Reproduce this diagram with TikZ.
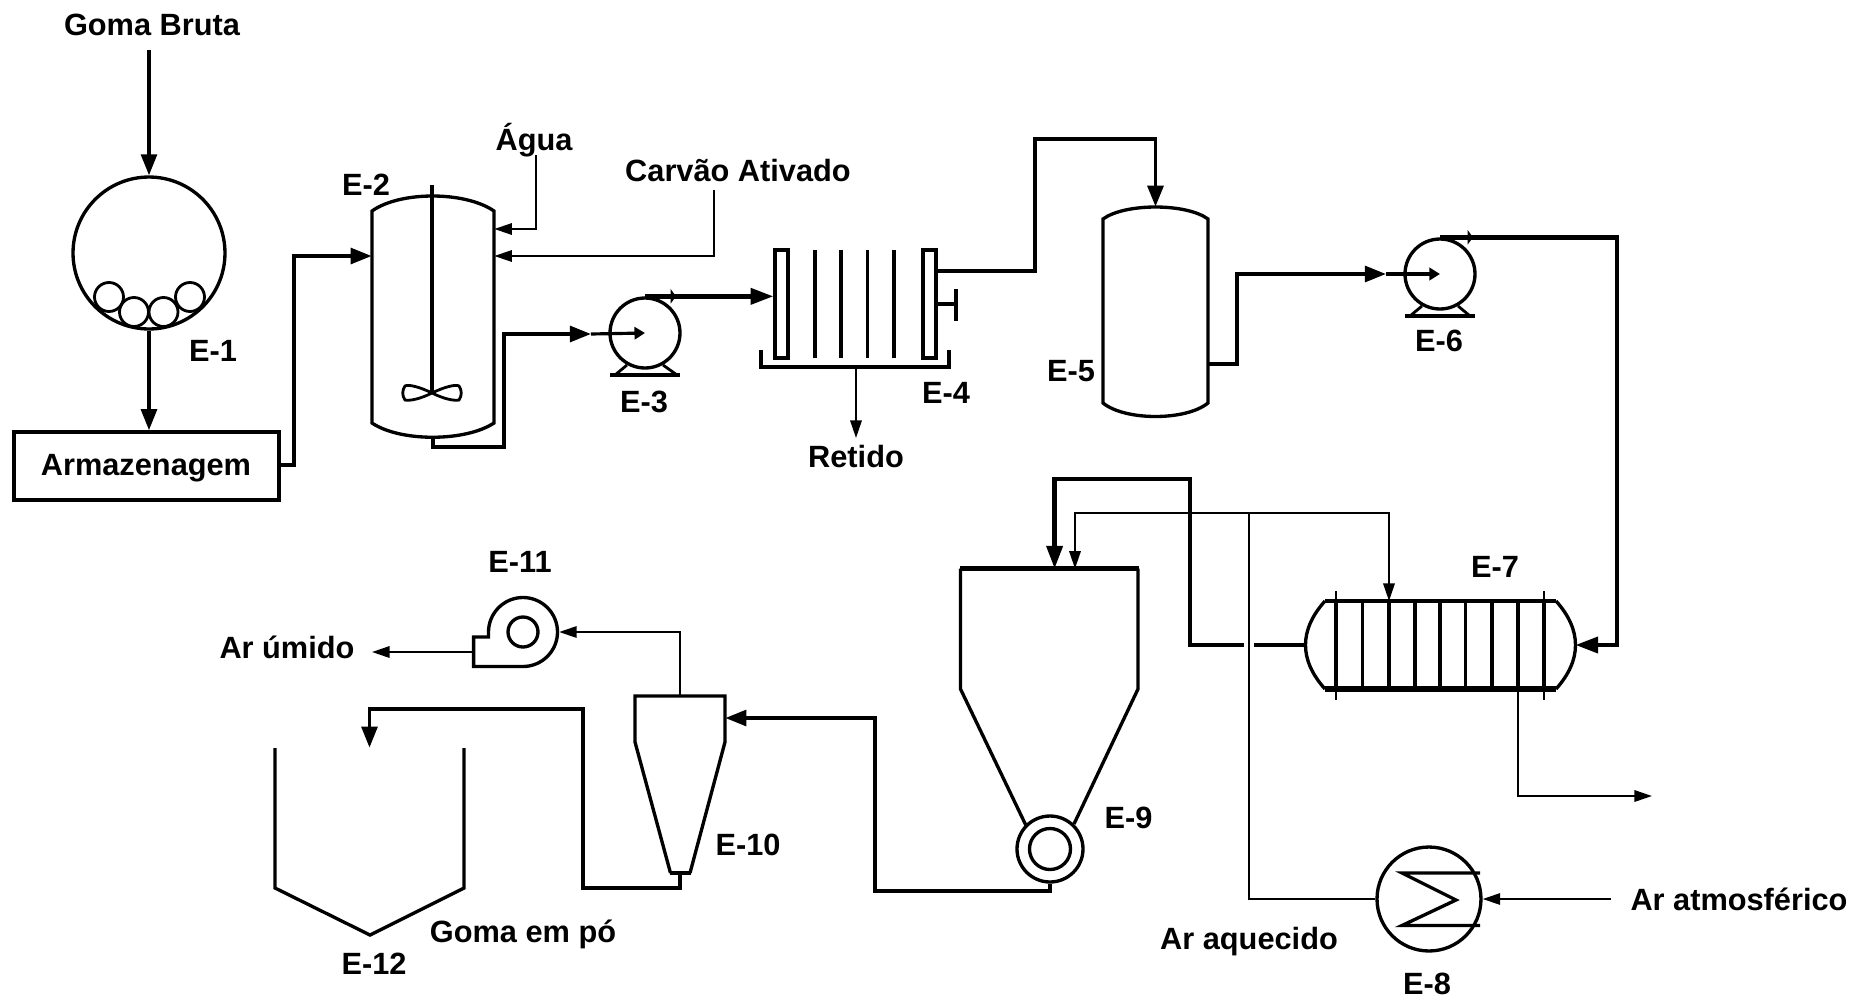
\documentclass[tikz,border=0pt]{standalone}
\usepackage{fontspec}
\setmainfont{Liberation Sans}
\usetikzlibrary{arrows.meta,calc}

\begin{document}
\begin{tikzpicture}[
  x=0.02cm,y=-0.02cm,
  lbl/.style={font=\bfseries\fontsize{17.5}{20}\selectfont,inner sep=0pt},
  eqp/.style={draw,line width=1.9pt},
  drum/.style={circle,draw,line width=1.9pt,inner sep=0pt,minimum size=#1},
  shell/.style={rectangle,inner sep=0pt,minimum width=#1},
  ball/.style={circle,draw,line width=1.6pt,inner sep=0pt,minimum size=0.58cm},
  flow/.style={-{Triangle[length=12pt,width=9pt]},line width=2pt},
  heavy/.style={-{Triangle[length=13pt,width=9pt]},line width=2.5pt},
  pipe/.style={line width=2.2pt},
  fine/.style={-{Triangle[length=10pt,width=6.5pt]},line width=1.1pt},
  finepipe/.style={line width=1.1pt},
  tick/.style={-{Triangle[length=3pt,width=8pt]},line width=1.8pt},
  inarr/.style={-{Triangle[length=6pt,width=7pt]},line width=1.8pt}
]
  \useasboundingbox (0,0) rectangle (1854,998);

  % E-1 and storage
  \node[lbl] (goma) at (152,25) {Goma Bruta};
  \node[drum=3.04cm] (E1) at (149,253) {};
  \foreach \ballx/\bally/\ballid in {109/297/a,134/312/b,163.5/312/c,190/297/d}
    \node[ball] (ball\ballid) at (\ballx,\bally) {};
  \node[lbl] (lblE1) at (213,351) {E-1};
  \node[rectangle,draw,line width=2pt,minimum width=5.3cm,minimum height=1.36cm,inner sep=0pt] (arm) at (146.5,466) {};
  \node[lbl] (lblarm) at (146,468) {Armazenagem};
  \draw[flow] (E1.north |- 0,50) -- (E1.north);
  \draw[flow] (E1.south) -- (arm.north -| E1.south);

  % E-2 tank
  \node[shell=2.44cm,minimum height=4.82cm] (E2) at (433,316.5) {};
  \draw[eqp] (372,211) -- (372,423) .. controls (400,442) and (465,442) .. (494,423)
    -- (494,211) .. controls (465,191) and (400,191) .. cycle;
  \draw[line width=1.9pt] (432,185) -- (432,393);
  \draw[line width=1.6pt] (432,393) .. controls (420,387) and (408,384) .. (405,386)
    .. controls (402,390) and (402,396) .. (405,400) .. controls (410,401) and (420,399) .. (432,393)
    .. controls (444,387) and (456,384) .. (459,386) .. controls (462,390) and (462,396) .. (459,400)
    .. controls (454,401) and (444,399) .. (432,393);
  \node[lbl] (lblE2) at (366,185) {E-2};
  \node[lbl] (agua) at (534,140) {Água};
  \node[lbl] (carvao) at (738,171) {Carvão Ativado};
  \draw[flow] (arm.east |- 0,465) -- (294,465) |- (E2.west |- 0,256);
  \draw[fine] (536,155) |- (E2.east |- 0,229);
  \draw[fine] (714,190) |- (E2.east |- 0,256);

  % E-3 pump
  \node[drum=1.4cm] (E3) at (645,333) {};
  \draw[line width=2pt] (610,375) -- (680,375);
  \draw[line width=1.6pt] (615,375) -- (627,365) (677,375) -- (663,365);
  \node[lbl] (lblE3) at (644,402) {E-3};
  \coordinate (e3in) at (591,334);
  \draw[flow] (E2.south) |- (504,447) |- (e3in);
  \draw[inarr] (e3in) -- (E3.center);

  % E-4 filter
  \node[shell=3.76cm,minimum height=2.34cm] (E4) at (855,308.5) {};
  \node[shell=0.26cm,draw,line width=1.8pt,minimum height=2.16cm] (E4a) at (781.5,304) {};
  \node[shell=0.26cm,draw,line width=1.8pt,minimum height=2.16cm] (E4b) at (929.5,304) {};
  \foreach \platex in {815,841,867.5,894}
    \draw[line width=1.9pt] (\platex,250) -- (\platex,358);
  \draw[line width=2pt] (761,350) -- (761,367) -- (949,367) -- (949,350);
  \draw[line width=1.8pt] (E4b.east) -- (956,304);
  \draw[line width=1.8pt] (956,289) -- (956,321);
  \node[lbl] (lblE4) at (946,393) {E-4};
  \node[lbl] (retido) at (856,457) {Retido};
  \draw[heavy] (E3.north) -- (E4a.west |- E3.north);
  \draw[tick] (E3.north) -- ++(31,0);
  \draw[fine] (E4.south -| retido.north) -- (retido.north |- 0,438);

  % E-5 vessel
  \node[shell=2.1cm,minimum height=4.2cm] (E5) at (1155.5,312) {};
  \draw[eqp] (1103,219) -- (1103,403) .. controls (1125,421) and (1186,421) .. (1208,403)
    -- (1208,219) .. controls (1186,203) and (1125,203) .. cycle;
  \node[lbl] (lblE5) at (1071,371) {E-5};
  \draw[pipe,-{Triangle[length=12pt,width=9pt]}] (E4b.east |- 0,271) -- (1035,271) -- (1035,139) -| (E5.north);

  % E-6 pump
  \node[drum=1.4cm] (E6) at (1440,274) {};
  \draw[line width=2pt] (1405,316) -- (1475,316);
  \draw[line width=1.6pt] (1410,316) -- (1422,306) (1470,316) -- (1458,306);
  \node[lbl] (lblE6) at (1439,341) {E-6};
  \coordinate (e6in) at (1386,274);
  \draw[flow] (E5.east |- 0,364) -- (1237,364) |- (e6in);
  \draw[inarr] (e6in) -- (E6.center);

  % E-7 exchanger
  \node[shell=5.38cm,minimum height=1.76cm] (E7) at (1440.5,645) {};
  \draw[eqp] (1325,601) .. controls (1299,630) and (1299,660) .. (1325,689);
  \draw[eqp] (1556,601) .. controls (1582,630) and (1582,660) .. (1556,689);
  \draw[line width=2.4pt] (1325,601) -- (1556,601);
  \draw[line width=3pt] (1325,689) -- (1556,689);
  \draw[line width=1.6pt] (1336,591) -- (1336,700) (1544,591) -- (1544,700);
  \draw[line width=2.8pt] (1336,601) -- (1336,689) (1544,601) -- (1544,689);
  \foreach \tubex in {1362.5,1389,1415,1440,1465.5,1492,1518}
    \draw[line width=1.9pt] (\tubex,601) -- (\tubex,689);
  \node[lbl] (lblE7) at (1495,567) {E-7};
  \draw[heavy] (E6.north) -- (1617,0 |- E6.north) |- (E7.east);
  \draw[tick] (E6.north) -- ++(33,0);

  % E-9 dryer
  \node[shell=3.54cm,minimum height=5.12cm] (E9) at (1049,697) {};
  \node[drum=1.32cm] (E9r) at (1050,849) {};
  \node[drum=0.82cm] (E9i) at (1050,849) {};
  \draw[eqp] (1026,825.5) -- (960.5,689) -- (960.5,568.6);
  \draw[eqp] (1074,824) -- (1138,689) -- (1138,568.6);
  \draw[line width=2.6pt] (959.5,568.6) -- (1139,568.6);
  \node[lbl] (lblE9) at (1128.5,818) {E-9};
  \coordinate (gapa) at (1254,645);
  \coordinate (gapb) at (1244,645);
  \draw[pipe] (E7.west) -- (gapa);
  \draw[heavy] (gapb) -- (1190,645) -- (1190,479) -- (1054.6,479) -- (1054.6,0 |- E9.north);

  % E-8 heater
  \node[drum=2.08cm] (E8) at (1429,899) {};
  \draw[line width=1.9pt] (1480,873) -- (1402,873) -- (1456,900) -- (1402,925.5) -- (1480,925.5);
  \node[lbl] (lblE8) at (1427,984) {E-8};
  \node[lbl] (atm) at (1739,899) {Ar atmosférico};
  \node[lbl] (aquec) at (1249,942) {Ar aquecido};
  \coordinate (tee) at (1249,513);
  \draw[fine] (1611,899) -- (E8.east);
  \draw[finepipe] (E8.west) -| (tee);
  \draw[fine] (tee) -- (1075,513) -- (1075,0 |- E9.north);
  \draw[fine] (tee) -- (1389,513) -- (1389,601);
  \coordinate (cond) at (1652,796);
  \draw[fine] (1518,689) |- (cond);

  % E-10 cyclone
  \node[shell=1.8cm,minimum height=3.54cm] (E10) at (680,784.5) {};
  \draw[eqp] (670.5,873) -- (635,742) -- (635,696) -- (725,696) -- (725,742) -- (690,873);
  \draw[line width=2.4pt] (669.5,873) -- (691,873);
  \node[lbl] (lblE10) at (748,845) {E-10};
  \draw[flow] (E9r.south) |- (875,891) |- (E10.east |- 0,718);

  % E-11 fan
  \node[drum=1.38cm,draw=none] (E11) at (523,632) {};
  \node[drum=0.6cm] (E11i) at (523,632) {};
  \draw[eqp] (488.5,637) -- (488.5,632) .. controls (488.5,613) and (504,597.5) .. (523,597.5)
    .. controls (542,597.5) and (557.5,613) .. (557.5,632)
    .. controls (557.5,651) and (542,666.5) .. (523,666.5)
    -- (473.6,666.5) -- (473.6,637) -- cycle;
  \node[lbl] (lblE11) at (520,562) {E-11};
  \node[lbl] (umido) at (287,647) {Ar úmido};
  \draw[fine] (E10.north) |- (E11.east);
  \draw[fine] (473.6,652) -- (372,652);

  % E-12 silo
  \node[shell=3.78cm,minimum height=3.74cm] (E12) at (369.5,841.5) {};
  \draw[eqp] (275,748) -- (275,888) -- (370,935) -- (464,888) -- (464,748);
  \node[lbl] (pronto) at (523,934) {Goma em pó};
  \node[lbl] (lblE12) at (374,964) {E-12};
  \draw[flow] (E10.south) |- (583,888) -- (583,709) -| (E12.north);
\end{tikzpicture}
\end{document}
